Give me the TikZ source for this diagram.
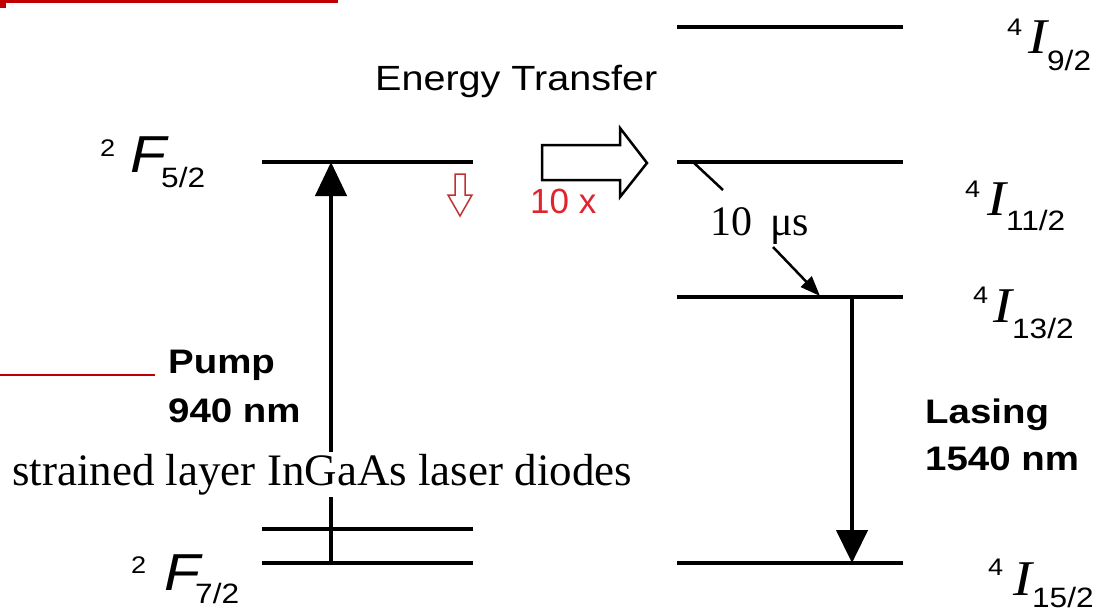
\documentclass[tikz,border=0pt]{standalone}
\usepackage{fontspec}
\setmainfont{Liberation Serif}
\setsansfont{Liberation Sans}
\newfontfamily\figsans[FakeStretch=1.13]{Liberation Sans}
\newfontfamily\figserif[FakeStretch=1.13]{Liberation Serif}
\usetikzlibrary{arrows.meta}
\definecolor{pptred}{RGB}{192,0,0}
\definecolor{txtred}{RGB}{225,35,45}
\definecolor{arrred}{RGB}{190,50,50}
\newcommand{\lsup}[1]{{\figsans\fontsize{24}{24}\selectfont #1}}
\newcommand{\lsub}[1]{{\figsans\fontsize{28}{28}\selectfont #1}}
\newcommand{\lbigF}{{\figsans\itshape\fontsize{52}{52}\selectfont F}}
\newcommand{\lbigI}{{\figserif\itshape\fontsize{50}{50}\selectfont I}}
\begin{document}
\begin{tikzpicture}[x=1pt,y=-1pt,
  level/.style={line width=4pt},
  pumparrow/.style={line width=4.5pt,-{Triangle[length=34pt,width=31pt]}},
  thinline/.style={line width=2.5pt},
  lbl/.style={inner sep=0pt,anchor=base west},
  bigtxt/.style={font=\figsans\fontsize{35}{35}\selectfont},
  boldtxt/.style={font=\figsans\bfseries\fontsize{34}{34}\selectfont},
]
\useasboundingbox (0,0) rectangle (1105,613);

% ---- red overlay lines
\coordinate (rA) at (0,1.5); \coordinate (rB) at (338,1.5);
\draw[pptred,line width=3pt] (rA) -- (rB);
\fill[pptred] (0,0) rectangle (6,8);
\coordinate (rC) at (0,375); \coordinate (rD) at (155,375);
\draw[pptred,line width=2pt] (rC) -- (rD);

% ---- Yb levels
\coordinate (F5L) at (262,162);  \coordinate (F5R) at (473,162);
\coordinate (F7aL) at (262,529); \coordinate (F7aR) at (473,529);
\coordinate (F7bL) at (262,563); \coordinate (F7bR) at (473,563);
\draw[level] (F5L) -- (F5R);
\draw[level] (F7aL) -- (F7aR);
\draw[level] (F7bL) -- (F7bR);

% ---- Er levels
\coordinate (I9L) at (677,27);   \coordinate (I9R) at (903,27);
\coordinate (I11L) at (677,162); \coordinate (I11R) at (903,162);
\coordinate (I13L) at (677,297); \coordinate (I13R) at (903,297);
\coordinate (I15L) at (677,563); \coordinate (I15R) at (903,563);
\draw[level] (I9L) -- (I9R);
\draw[level] (I11L) -- (I11R);
\draw[level] (I13L) -- (I13R);
\draw[level] (I15L) -- (I15R);

% ---- pump arrow
\coordinate (pumpB) at (331,563); \coordinate (pumpT) at (331,162);
\draw[pumparrow] (pumpB) -- (pumpT);

% ---- lasing arrow
\coordinate (lasT) at (852,297); \coordinate (lasB) at (852,563);
\draw[pumparrow,-{Triangle[length=33pt,width=31pt]}] (lasT) -- (lasB);

% ---- relaxation tick and 10 us arrow
\coordinate (tickA) at (693,162); \coordinate (tickB) at (723,190);
\draw[thinline] (tickA) -- (tickB);
\coordinate (usA) at (773,247); \coordinate (usB) at (820,296);
\draw[thinline,-{Triangle[length=20pt,width=15pt]}] (usA) -- (usB);

% ---- energy transfer hollow arrow
\draw[line width=2.5pt,line join=miter] (542,145) -- (620,145) -- (620,128) -- (647,163)
  -- (620,197) -- (620,180) -- (542,180) -- cycle;

% ---- small red hollow arrow
\draw[arrred,line width=1.5pt,line join=miter] (455,174) -- (465,174) -- (465,195) -- (472,195)
  -- (460,216) -- (448,195) -- (455,195) -- cycle;

% ---- texts
\node[lbl,bigtxt] (et) at (375,90) {Energy Transfer};
\node[lbl,boldtxt] (pump) at (168,373) {Pump};
\node[lbl,boldtxt] (pnm) at (168,422) {940 nm};
\node[lbl,boldtxt] (las) at (925,423) {Lasing};
\node[lbl,boldtxt] (lnm) at (925,470) {1540 nm};
\node[lbl,text=txtred,font=\sffamily\fontsize{35}{35}\selectfont] (tenx) at (530,213) {10 x};
\node[lbl,font=\fontsize{42}{42}\selectfont] (tenus) at (710,235) {10\hspace{18pt}μs};
\node[lbl,fill=white,inner sep=2pt,font=\fontsize{45}{45}\selectfont] (sld) at (10,485)
  {strained layer InGaAs laser diodes};

% ---- term labels
\node[lbl] (f52) at (100,172) {\raisebox{16pt}{\lsup{2}}\hspace{15pt}\lbigF\hspace{-5pt}\raisebox{-15pt}{\lsub{5/2}}};
\node[lbl] (f72) at (131,590) {\raisebox{17pt}{\lsup{2}}\hspace{18pt}\lbigF\hspace{-5pt}\raisebox{-13pt}{\lsub{7/2}}};
\node[lbl] (i92) at (1007,53) {\raisebox{18pt}{\lsup{4}}\hspace{6pt}\lbigI\raisebox{-17pt}{\lsub{9/2}}};
\node[lbl] (i112) at (965,215) {\raisebox{18pt}{\lsup{4}}\hspace{7pt}\lbigI\raisebox{-15pt}{\lsub{11/2}}};
\node[lbl] (i132) at (973,322) {\raisebox{19pt}{\lsup{4}}\hspace{5pt}\lbigI\raisebox{-16pt}{\lsub{13/2}}};
\node[lbl] (i152) at (988,595) {\raisebox{20pt}{\lsup{4}}\hspace{10pt}\lbigI\raisebox{-12pt}{\lsub{15/2}}};
\end{tikzpicture}
\end{document}
